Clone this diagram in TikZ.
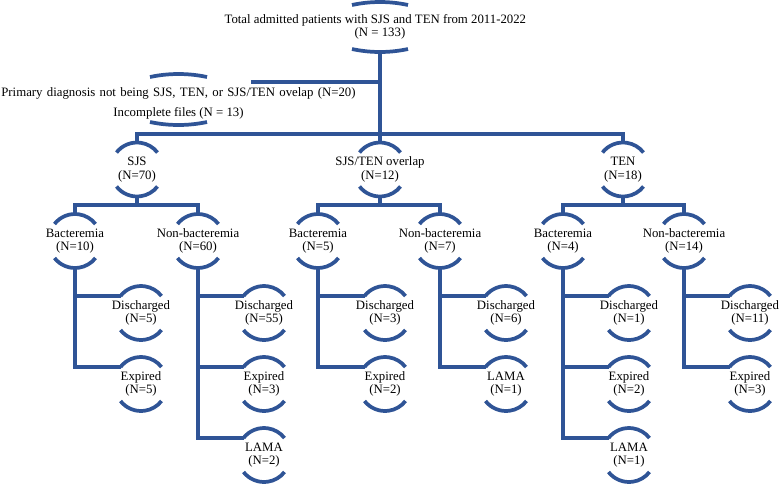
\documentclass[tikz,border=0pt]{standalone}
\usepackage{fontspec}
\setmainfont{Liberation Serif}
\usetikzlibrary{calc}
\definecolor{flowblue}{RGB}{47,84,150}

% arcs above and below a label: [#1 shift] #2 node, #3 half width, #4 height of ends, #5 bulge
\newcommand{\capsfor}[5][0]{%
  \pgfmathsetmacro{\capR}{(#3*#3+#5*#5)/(2*#5)}%
  \pgfmathsetmacro{\capA}{asin(#3/\capR)}%
  \coordinate (#2-c) at ($(#2.center)+(0,#1)$);
  \draw[capline] ($(#2-c)+(-#3,#4)$) coordinate (#2-w) arc[start angle={90+\capA}, end angle={90-\capA}, radius=\capR];
  \draw[capline] ($(#2-c)+(-#3,-#4)$) arc[start angle={270-\capA}, end angle={270+\capA}, radius=\capR];
  \coordinate (#2-n) at ($(#2-c)+(0,#4+#5)$);
  \coordinate (#2-s) at ($(#2-c)+(0,-#4-#5)$);
}

\begin{document}
\begin{tikzpicture}[x=0.75pt, y=0.75pt, every node/.style={font=\fontsize{9.6}{10.2}\selectfont}, lbl/.style={align=center, inner sep=0pt}, link/.style={draw=flowblue, line width=3pt}, capline/.style={draw=flowblue, line width=2.8pt}]
\useasboundingbox (0,0) rectangle (779,-483);

\node[lbl] (total) at (380,-27) {\hspace*{-7pt}Total admitted patients with SJS and TEN from 2011-2022\\(N = 133)};
\node[lbl] (excl)  at (178.5,-103) {\spaceskip=0.34em Primary diagnosis not being SJS, TEN, or SJS/TEN ovelap (N=20)\\[4.8pt]Incomplete files (N = 13)};

\node[lbl] (sjs) at (137,-169.5) {SJS\\(N=70)};
\node[lbl] (ovl) at (380,-169.5) {SJS/TEN overlap\\(N=12)};
\node[lbl] (ten) at (623,-169.5) {TEN\\(N=18)};

\node[lbl] (sjsbac) at (75,-241)  {Bacteremia\\(N=10)};
\node[lbl] (sjsnon) at (198,-241) {Non-bacteremia\\(N=60)};
\node[lbl] (ovlbac) at (318,-241) {Bacteremia\\(N=5)};
\node[lbl] (ovlnon) at (440,-241) {Non-bacteremia\\(N=7)};
\node[lbl] (tenbac) at (563,-241) {Bacteremia\\(N=4)};
\node[lbl] (tennon) at (684,-241) {Non-bacteremia\\(N=14)};

\node[lbl] (sjsbacdis)  at (141,-313) {Discharged\\(N=5)};
\node[lbl] (sjsbacexp)  at (141,-384) {Expired\\(N=5)};
\node[lbl] (sjsnondis)  at (264,-313) {Discharged\\(N=55)};
\node[lbl] (sjsnonexp)  at (264,-384) {Expired\\(N=3)};
\node[lbl] (sjsnonlama) at (264,-455) {LAMA\\(N=2)};
\node[lbl] (ovlbacdis)  at (385,-313) {Discharged\\(N=3)};
\node[lbl] (ovlbacexp)  at (385,-384) {Expired\\(N=2)};
\node[lbl] (ovlnondis)  at (506,-313) {Discharged\\(N=6)};
\node[lbl] (ovlnonlama) at (506,-384) {LAMA\\(N=1)};
\node[lbl] (tenbacdis)  at (629,-313) {Discharged\\(N=1)};
\node[lbl] (tenbacexp)  at (629,-384) {Expired\\(N=2)};
\node[lbl] (tenbaclama) at (629,-455) {LAMA\\(N=1)};
\node[lbl] (tennondis)  at (750,-313) {Discharged\\(N=11)};
\node[lbl] (tennonexp)  at (750,-384) {Expired\\(N=3)};

% arcs
\capsfor{total}{28}{22}{3}
\capsfor[3.5]{excl}{28.5}{22.5}{3}
\foreach \n in {sjs,ovl,ten,sjsbac,sjsnon,ovlbac,ovlnon,tenbac,tennon,sjsbacdis,sjsbacexp,sjsnondis,sjsnonexp,sjsnonlama,ovlbacdis,ovlbacexp,ovlnondis,ovlnonlama,tenbacdis,tenbacexp,tenbaclama,tennondis,tennonexp}
  {\capsfor{\n}{20.5}{17}{10}}

% connectors
\coordinate (trunk) at (380,-82);
\coordinate (excljoin) at (251,-82);
\coordinate (bar) at (380,-134);
\draw[link] (total-s) -- (bar);
\draw[link] (excljoin) -- (trunk);
\draw[link] (sjs-n) |- (bar) -| (ten-n);
\draw[link] (bar) -- (ovl-n);

\foreach \p/\a/\b in {sjs/sjsbac/sjsnon, ovl/ovlbac/ovlnon, ten/tenbac/tennon}
  {\coordinate (\p-j) at ($(\p-s)+(0,-8.5)$);
   \draw[link] (\p-s) -- (\p-j);
   \draw[link] (\a-n) |- (\p-j) -| (\b-n);}

\foreach \p/\c in {sjsbac/sjsbacdis, sjsbac/sjsbacexp, sjsnon/sjsnondis, sjsnon/sjsnonexp, sjsnon/sjsnonlama, ovlbac/ovlbacdis, ovlbac/ovlbacexp, ovlnon/ovlnondis, ovlnon/ovlnonlama, tenbac/tenbacdis, tenbac/tenbacexp, tenbac/tenbaclama, tennon/tennondis, tennon/tennonexp}
  \draw[link] (\p-s) |- (\c-w);
\end{tikzpicture}
\end{document}
